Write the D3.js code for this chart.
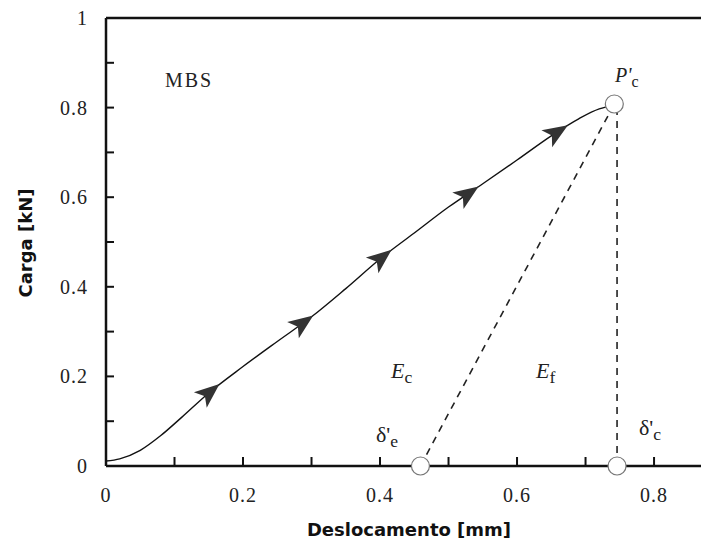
<!DOCTYPE html>
<html>
<head>
<meta charset="utf-8">
<script src="https://cdn.jsdelivr.net/npm/d3@7"></script>
<style>
  body { margin: 0; background: #fff; }
  svg { display: block; }
  .tick-label { font-family: "Liberation Serif", serif; font-size: 20px; fill: #222; letter-spacing: 1px; }
  .axis-title { font-family: "DejaVu Sans", sans-serif; font-weight: bold; font-size: 18px; fill: #111; }
  .note { font-family: "Liberation Serif", serif; fill: #222; }
</style>
</head>
<body>
<svg id="chart" width="701" height="544"></svg>
<script>
// load–displacement curve (Deslocamento [mm], Carga [kN])
const dispValues = [0, 0.02, 0.05, 0.08, 0.11, 0.15, 0.2, 0.25, 0.3, 0.35, 0.4, 0.45, 0.5, 0.55, 0.6, 0.65, 0.69, 0.72, 0.742];
const loadValues = [0.011, 0.016, 0.035, 0.068, 0.108, 0.163, 0.222, 0.278, 0.333, 0.396, 0.462, 0.52, 0.578, 0.63, 0.683, 0.737, 0.775, 0.797, 0.805];

// where the direction arrows sit on the curve
const arrowDisp = [0.15, 0.286, 0.401, 0.527, 0.657];

// special points
const peakDisp = 0.742, peakLoad = 0.808;   // P'c
const deltaE = 0.459;                        // δ'e
const deltaC = 0.746;                        // δ'c

const xTicks = [0, 0.2, 0.4, 0.6, 0.8];
const xTickLabels = ["0", "0.2", "0.4", "0.6", "0.8"];
const yTicks = [0, 0.2, 0.4, 0.6, 0.8, 1];
const yTickLabels = ["0", "0.2", "0.4", "0.6", "0.8", "1"];
const minorStep = 0.1;

const svg = d3.select("#chart");

const x = d3.scaleLinear().domain([0, 0.87]).range([106, 702]);
const y = d3.scaleLinear().domain([0, 1]).range([466, 18]);

// frame: left, top, bottom
const frame = svg.append("g").attr("stroke", "#111").attr("stroke-width", 2.5).attr("fill", "none");
frame.append("line").attr("x1", x(0)).attr("x2", x(0)).attr("y1", y(1)).attr("y2", y(0));
frame.append("line").attr("x1", x(0)).attr("x2", 701).attr("y1", y(1)).attr("y2", y(1));
frame.append("line").attr("x1", x(0)).attr("x2", 701).attr("y1", y(0)).attr("y2", y(0));

// inside ticks
const xMinor = d3.range(1, 9).map(i => i * minorStep);
const yMinor = d3.range(1, 10).map(i => i * minorStep);

svg.append("g")
  .selectAll("line")
  .data(xMinor)
  .join("line")
  .attr("x1", d => x(d)).attr("x2", d => x(d))
  .attr("y1", y(0)).attr("y2", y(0) - 9)
  .attr("stroke", "#111").attr("stroke-width", 2);

svg.append("g")
  .selectAll("line")
  .data(yMinor)
  .join("line")
  .attr("x1", x(0)).attr("x2", x(0) + 8)
  .attr("y1", d => y(d)).attr("y2", d => y(d))
  .attr("stroke", "#111").attr("stroke-width", 2);

// tick labels
svg.append("g")
  .selectAll("text")
  .data(xTicks)
  .join("text")
  .attr("class", "tick-label")
  .attr("x", d => x(d))
  .attr("y", 502)
  .attr("text-anchor", "middle")
  .text((d, i) => xTickLabels[i]);

svg.append("g")
  .selectAll("text")
  .data(yTicks)
  .join("text")
  .attr("class", "tick-label")
  .attr("x", 88)
  .attr("y", d => y(d) + 7)
  .attr("text-anchor", "end")
  .text((d, i) => yTickLabels[i]);

// axis titles
svg.append("text")
  .attr("class", "axis-title")
  .attr("x", 409).attr("y", 536)
  .attr("text-anchor", "middle")
  .text("Deslocamento [mm]");

svg.append("text")
  .attr("class", "axis-title")
  .attr("transform", "translate(32,243) rotate(-90)")
  .attr("text-anchor", "middle")
  .text("Carga [kN]");

// dashed unloading lines
const dashed = svg.append("g")
  .attr("stroke", "#222").attr("stroke-width", 1.6)
  .attr("stroke-dasharray", "7,6").attr("fill", "none");
dashed.append("line")
  .attr("x1", x(deltaE)).attr("y1", y(0))
  .attr("x2", x(peakDisp)).attr("y2", y(peakLoad));
dashed.append("line")
  .attr("x1", x(deltaC)).attr("y1", y(0))
  .attr("x2", x(deltaC)).attr("y2", y(peakLoad));

// main curve
const pts = dispValues.map((d, i) => [d, loadValues[i]]);
const line = d3.line()
  .x(d => x(d[0]))
  .y(d => y(d[1]))
  .curve(d3.curveMonotoneX);

svg.append("path")
  .datum(pts)
  .attr("d", line)
  .attr("fill", "none")
  .attr("stroke", "#111")
  .attr("stroke-width", 1.4);

// arrowheads along the curve
const loadAt = d3.scaleLinear().domain(dispValues).range(loadValues);
svg.append("g")
  .selectAll("path")
  .data(arrowDisp)
  .join("path")
  .attr("d", "M14,0 L-11,-10 L-5,0 L-11,10 Z")
  .attr("fill", "#333")
  .attr("transform", d => {
    const px = x(d), py = y(loadAt(d));
    const dx = x(d + 0.01) - x(d - 0.01);
    const dy = y(loadAt(d + 0.01)) - y(loadAt(d - 0.01));
    const ang = Math.atan2(dy, dx) * 180 / Math.PI;
    return `translate(${px},${py}) rotate(${ang})`;
  });

// open markers
const markers = [[peakDisp, peakLoad], [deltaE, 0], [deltaC, 0]];
svg.append("g")
  .selectAll("circle")
  .data(markers)
  .join("circle")
  .attr("cx", d => x(d[0]))
  .attr("cy", d => y(d[1]))
  .attr("r", 9)
  .attr("fill", "#fff")
  .attr("stroke", "#777")
  .attr("stroke-width", 1.2);

// annotations
svg.append("text").attr("class", "note")
  .attr("x", 165).attr("y", 87)
  .style("font-size", "20px").style("letter-spacing", "2px")
  .text("MBS");

function sublabel(xp, yp, main, sub, italic, size) {
  const t = svg.append("text").attr("class", "note")
    .attr("x", xp).attr("y", yp).style("font-size", size + "px");
  t.append("tspan").style("font-style", italic ? "italic" : "normal").text(main);
  t.append("tspan").attr("dy", 5).style("font-size", (size * 0.8) + "px").text(sub);
}

sublabel(615, 82, "P'", "c", true, 20);
sublabel(391, 378, "E", "c", true, 22);
sublabel(536, 378, "E", "f", true, 22);
sublabel(376, 442, "δ'", "e", false, 22);
sublabel(639, 435, "δ'", "c", false, 22);
</script>
</body>
</html>
